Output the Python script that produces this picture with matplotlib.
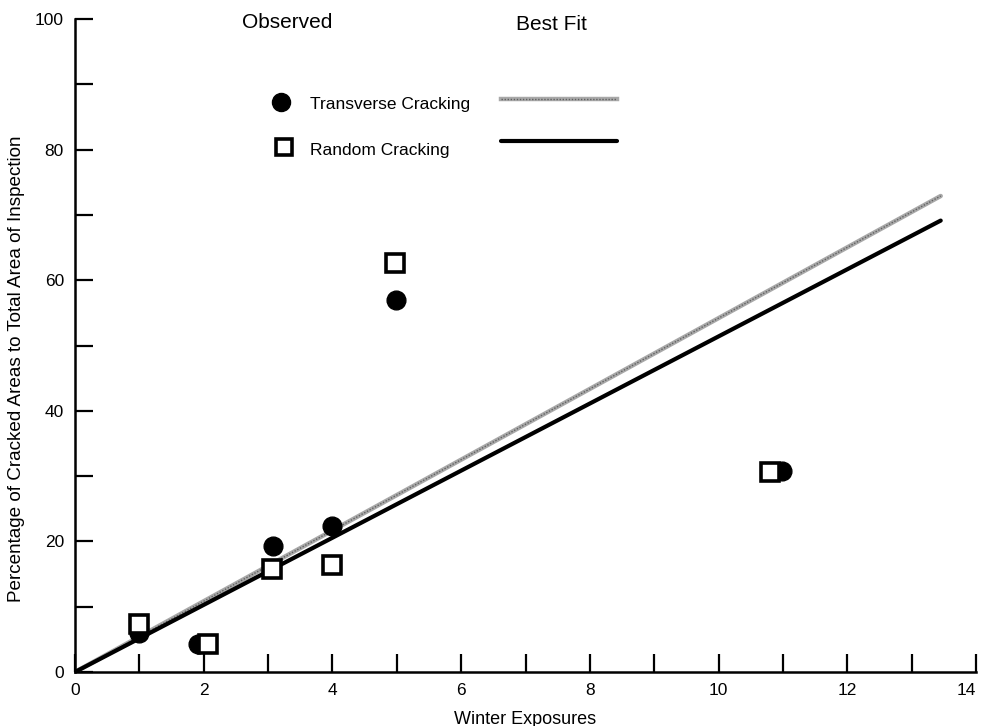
import numpy as np
import matplotlib
matplotlib.use("Agg")
import matplotlib.pyplot as plt
from matplotlib.lines import Line2D

plt.rcParams['font.family'] = ['Liberation Sans', 'DejaVu Sans']

# Observed percentages of cracked area per winter exposure
trans_x = [1.0, 1.91, 3.07, 4.0, 4.98, 10.98]
trans_y = [6.0, 4.3, 19.3, 22.4, 56.9, 30.8]
rand_x = [1.0, 2.07, 3.06, 3.99, 4.97, 10.8]
rand_y = [7.4, 4.3, 15.8, 16.4, 62.6, 30.6]

# Best-fit lines through the origin (slope, end of fitted range)
trans_slope = 5.42
rand_slope = 5.14
fit_end = 13.45

x_ticks = [0, 2, 4, 6, 8, 10, 12, 14]
y_ticks = [0, 20, 40, 60, 80, 100]

fig = plt.figure(figsize=(9.83, 7.26), dpi=100)
ax = fig.add_axes([0.0763, 0.0744, 0.9167, 0.8994])

xf = np.array([0.0, fit_end])
ax.plot(xf, trans_slope * xf, color='#a8a8a8', lw=3.2, solid_capstyle='round', zorder=2)
ax.plot(xf, trans_slope * xf, color='#606060', lw=1.0, ls=(0, (1, 1.2)), zorder=2)
ax.plot(xf, rand_slope * xf, color='black', lw=3.0, solid_capstyle='round', zorder=2)

ax.plot(trans_x, trans_y, 'o', ms=13.5, color='black', zorder=3)
ax.plot(rand_x, rand_y, 's', ms=12.5, mfc='white', mec='black', mew=2.6, zorder=4)

ax.set_xlim(0, 14)
ax.set_ylim(0, 100)
ax.set_xticks(x_ticks)
ax.set_xticks(np.arange(1, 14, 2), minor=True)
ax.set_yticks(y_ticks)
ax.set_yticks(np.arange(10, 100, 20), minor=True)
ax.tick_params(which='both', direction='in', length=13, width=1.6, labelsize=12.5)
ax.tick_params(axis='x', pad=8)
ax.tick_params(axis='y', pad=8)
for s in ('top', 'right'):
    ax.spines[s].set_visible(False)
for s in ('left', 'bottom'):
    ax.spines[s].set_linewidth(1.8)
ax.xaxis.get_majorticklabels()[-1].set_horizontalalignment('right')

ax.set_xlabel('Winter Exposures', fontsize=13, labelpad=9)
ax.set_ylabel('Percentage of Cracked Areas to Total Area of Inspection', fontsize=13.6)
ax.yaxis.set_label_coords(-0.0555, 0.464)

# Legend block drawn in figure coordinates
W, H = 983.0, 726.0
def fx(px):
    return px / W
def fy(py):
    return 1 - py / H

fig.text(fx(242), fy(23), 'Observed', fontsize=15, va='center', ha='left')
fig.text(fx(516), fy(25), 'Best Fit', fontsize=15, va='center', ha='left')
fig.add_artist(Line2D([fx(281)], [fy(102)], marker='o', ms=13, color='black', ls='none'))
fig.add_artist(Line2D([fx(284)], [fy(147)], marker='s', ms=11, mfc='white', mec='black', mew=2.6, ls='none'))
fig.text(fx(310), fy(104), 'Transverse Cracking', fontsize=12.5, va='center', ha='left')
fig.text(fx(310), fy(150), 'Random Cracking', fontsize=12.5, va='center', ha='left')
fig.add_artist(Line2D([fx(501), fx(617)], [fy(99), fy(99)], color='#a8a8a8', lw=3.2))
fig.add_artist(Line2D([fx(501), fx(617)], [fy(99), fy(99)], color='#606060', lw=1.0, ls=(0, (1, 1.2))))
fig.add_artist(Line2D([fx(501), fx(617)], [fy(141), fy(141)], color='black', lw=3.0, solid_capstyle='round'))

fig.savefig('out.png', dpi=100)
